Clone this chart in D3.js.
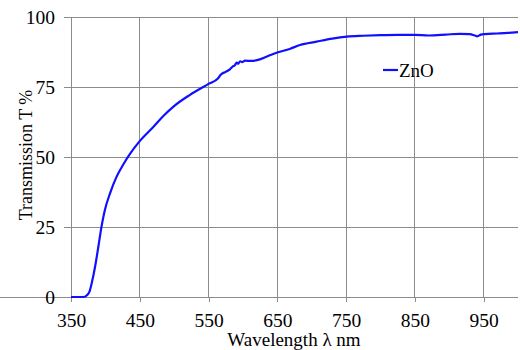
<!DOCTYPE html>
<html><head><meta charset="utf-8">
<script src="https://cdn.jsdelivr.net/npm/d3@7"></script>
<style>body{margin:0;background:#fff}svg{display:block}</style>
</head><body>
<svg id="c" width="520" height="350"></svg>
<script>
const wavelength = [350,365,370,373,377,380,385,390,394,399,407,416,426,436,449,470,485,499,523,550,564,568,575,581,585,588,591,593,596,599,603,612,622,635,650,668,683,707,730,751,775,800,825,850,870,895,915,930,937,941,946,952,970,985,1000];
const transmission = [0,0,0.1,0.6,2.0,4.8,10.8,18.3,24.6,30.8,37.2,42.8,47.3,51.2,55.4,60.8,64.8,68,72.2,76.1,78.1,79.5,80.4,81.3,82.3,82.7,83.7,83.3,84.2,83.9,84.4,84.3,84.7,85.9,87.3,88.6,90,91.2,92.3,93,93.3,93.5,93.6,93.6,93.4,93.7,94,93.9,93.4,93.1,93.7,93.9,94.1,94.3,94.6];
const xTicks = [350,450,550,650,750,850,950];
const yTicks = [0,25,50,75,100];
const seriesName = "ZnO";

const svg = d3.select("#c");
const font = "'Liberation Serif','Times New Roman',serif";
const x = d3.scaleLinear().domain([350,1000]).range([71,518]);
const y = d3.scaleLinear().domain([0,100]).range([297,17]);
const grid = "#8c8c8c";

// gridlines
svg.append("g").selectAll("line").data(yTicks).join("line")
  .attr("x1",x(350)).attr("x2",x(1000)).attr("y1",d=>y(d)).attr("y2",d=>y(d))
  .attr("stroke",grid).attr("stroke-width",1).attr("shape-rendering","crispEdges");
svg.append("g").selectAll("line").data(xTicks).join("line")
  .attr("x1",d=>x(d)).attr("x2",d=>x(d)).attr("y1",y(0)).attr("y2",y(100))
  .attr("stroke",grid).attr("stroke-width",1).attr("shape-rendering","crispEdges");

// axes
const xa = svg.append("g").attr("transform",`translate(0,${y(0)})`)
  .call(d3.axisBottom(x).tickValues(xTicks).tickSize(5).tickSizeOuter(0).tickPadding(11));
const ya = svg.append("g").attr("transform",`translate(${x(350)},0)`)
  .call(d3.axisLeft(y).tickValues(yTicks).tickSize(7).tickSizeOuter(0).tickPadding(9));
[xa,ya].forEach(a=>{
  a.select(".domain").attr("stroke",grid).attr("shape-rendering","crispEdges");
  a.selectAll(".tick line").attr("stroke",grid).attr("shape-rendering","crispEdges");
  a.selectAll("text").attr("fill","#000").style("font-family",font).style("font-size","19.5px");
});
ya.select(".domain").attr("d",`M0,${y(0)}V${y(100)}`);
xa.select(".domain").attr("d",`M0,0H${x(1000)}`);

// line
const data = wavelength.map((w,i)=>[w,transmission[i]]);
svg.append("path").datum(data)
  .attr("fill","none").attr("stroke","#1010ff").attr("stroke-width",2.2)
  .attr("stroke-linejoin","round")
  .attr("d",d3.line().x(d=>x(d[0])).y(d=>y(d[1])).curve(d3.curveMonotoneX));

// titles
svg.append("text").attr("x",294).attr("y",346).attr("text-anchor","middle")
  .style("font-family",font).style("font-size","19px").text("Wavelength λ nm");
svg.append("text").attr("transform","translate(32,155) rotate(-90)").attr("text-anchor","middle")
  .style("font-family",font).style("font-size","18px").text("Transmission T %");

// legend
const lg = svg.append("g");
lg.append("line").attr("x1",383).attr("x2",398).attr("y1",70).attr("y2",70)
  .attr("stroke","#1010ff").attr("stroke-width",2.2);
lg.append("text").attr("x",399).attr("y",77)
  .style("font-family",font).style("font-size","19px").text(seriesName);
</script>
</body></html>
